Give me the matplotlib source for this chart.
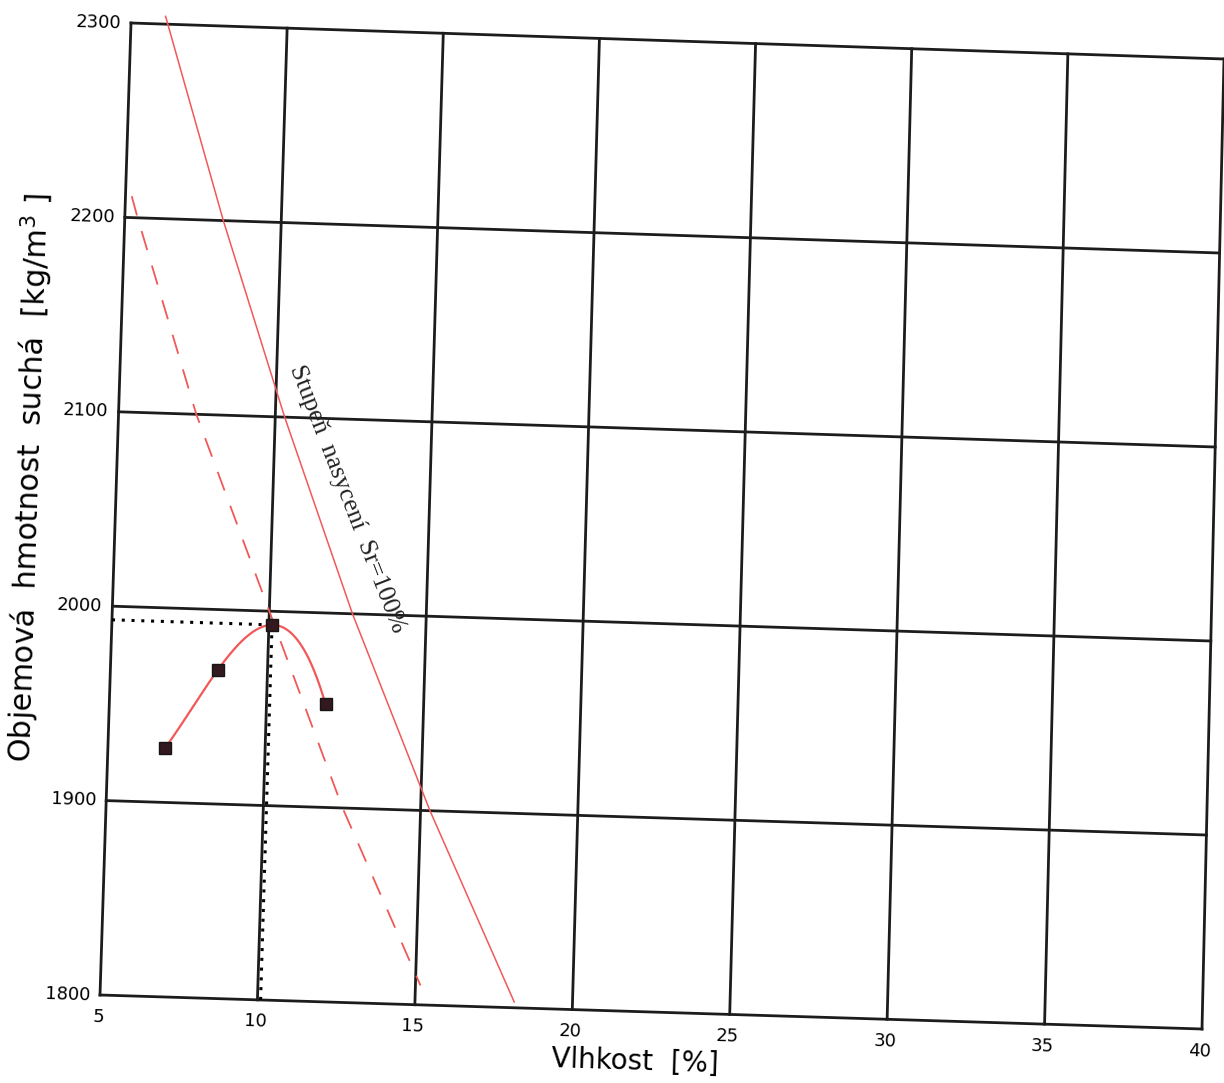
import numpy as np
import matplotlib
matplotlib.use("Agg")
import matplotlib.pyplot as plt
import matplotlib.transforms as mtransforms

# ---------------- data ----------------
moisture = [6.82, 8.42, 10.1, 11.88]          # Vlhkost [%]
dry_density = [1928, 1969, 1993, 1953]         # kg/m3
opt_moisture = 10.1
max_density = 1993

sat100_w = [6.1, 8.15, 10.3, 12.65, 15.3, 18.15]
sat100_rho = [2304, 2200, 2100, 2000, 1900, 1803]

dashed_w = [5.2, 5.41, 7.48, 10.0, 12.52, 15.16]
dashed_rho = [2211, 2200, 2100, 2000, 1900, 1810]

x_ticks = [5, 10, 15, 20, 25, 30, 35, 40]
y_ticks = [1800, 1900, 2000, 2100, 2200, 2300]
x_lim = (5, 40)
y_lim = (1800, 2300)

W, H = 1224, 1083
fig = plt.figure(figsize=(W / 100, H / 100), dpi=100)
fig.patch.set_facecolor("white")
ax = fig.add_axes([0, 0, 1, 1])
ax.set_autoscale_on(False)
ax.set_xlim(*x_lim)
ax.set_ylim(*y_lim)
ax.axis("off")


# scanned sheet is slightly rotated / skewed: map the unit axes square onto
# the observed corner positions (image pixels) with a bilinear transform
class Bilinear(mtransforms.Transform):
    input_dims = 2
    output_dims = 2
    is_separable = False
    has_inverse = False

    def __init__(self, bl, br, tl, tr):
        super().__init__()
        self.c = [np.array(p, float) for p in (bl, br, tl, tr)]

    def transform_non_affine(self, values):
        v = np.asarray(values, float).reshape(-1, 2)
        u = v[:, 0:1]
        w = v[:, 1:2]
        bl, br, tl, tr = self.c
        return (1 - u) * (1 - w) * bl + u * (1 - w) * br + (1 - u) * w * tl + u * w * tr


def fpx(x, y):
    return (x / W, 1 - y / H)


bil = Bilinear(fpx(100, 995), fpx(1202, 1029), fpx(131, 23), fpx(1224, 59))
T = ax.transScale + ax.transLimits + bil + fig.transFigure

RED = "#f25858"
GRID = "#1c1c1c"

# grid
for xv in x_ticks:
    ax.plot([xv, xv], list(y_lim), color=GRID, lw=2.0, transform=T, clip_on=False,
            solid_capstyle="projecting", zorder=2)
for yv in y_ticks:
    ax.plot(list(x_lim), [yv, yv], color=GRID, lw=2.0, transform=T, clip_on=False,
            solid_capstyle="projecting", zorder=2)

# tick labels
ylab_tr = mtransforms.offset_copy(T, fig=fig, x=-10, y=0, units="dots")
for yv in y_ticks:
    ax.text(x_lim[0], yv, str(yv), transform=ylab_tr, ha="right", va="center",
            fontsize=13, rotation=-1.8, rotation_mode="anchor", clip_on=False,
            family="DejaVu Sans")
xlab_tr = mtransforms.offset_copy(T, fig=fig, x=-2, y=-22, units="dots")
for xv in x_ticks:
    ax.text(xv, y_lim[0], str(xv), transform=xlab_tr, ha="center", va="center",
            fontsize=13, rotation=-1.8, rotation_mode="anchor", clip_on=False,
            family="DejaVu Sans")

# saturation lines
ax.plot(sat100_w, sat100_rho, color=RED, lw=1.1, transform=T, clip_on=False, zorder=3)
ax.plot(dashed_w, dashed_rho, color=RED, lw=1.3, transform=T, clip_on=False, zorder=3,
        dashes=(11, 9))

# optimum dotted guide lines
ax.plot([x_lim[0], opt_moisture], [max_density, max_density], color="black", lw=2.2,
        linestyle=(0, (1, 2.2)), transform=T, clip_on=False, zorder=4)
ax.plot([opt_moisture, opt_moisture], [y_lim[0], max_density], color="black", lw=2.2,
        linestyle=(0, (1, 2.2)), transform=T, clip_on=False, zorder=4)

# compaction curve (cubic through the measured points) and points
coef = np.polyfit(moisture, dry_density, 3)
xs = np.linspace(min(moisture), max(moisture), 200)
ax.plot(xs, np.polyval(coef, xs), color=RED, lw=1.6, transform=T, clip_on=False, zorder=5)
ax.plot(moisture, dry_density, linestyle="none", marker="s", markersize=8,
        markerfacecolor="#33181f", markeredgecolor="#151515", markeredgewidth=1.0,
        transform=T, clip_on=False, zorder=6)

# annotation along the Sr = 100 % line
ax.text(12.36, 2059, "Stupeň  nasycení  Sr=100%", transform=T, rotation=-68.7,
        rotation_mode="anchor", ha="center", va="center", fontsize=18.5,
        family=["Liberation Serif", "DejaVu Serif"], color="#222222", clip_on=False)

# axis titles
fig.text(635 / W, 1 - 1062 / H, "Vlhkost  [%]", ha="center", va="center",
         fontsize=20, rotation=-1.8, rotation_mode="anchor", family="DejaVu Sans")
fig.text(30 / W, 1 - 478 / H, "Objemová  hmotnost  suchá  [kg/m$^3$ ]", ha="center",
         va="center", fontsize=21.8, rotation=88.2, rotation_mode="anchor",
         family="DejaVu Sans")

fig.savefig("out.png", dpi=100, facecolor="white")
